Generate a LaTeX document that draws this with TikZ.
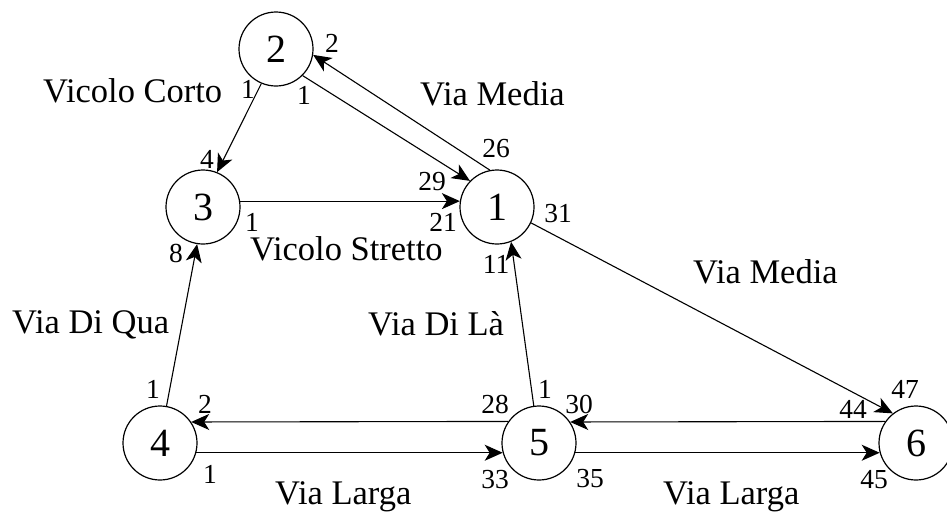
\documentclass[tikz,border=0pt]{standalone}
\usepackage{fontspec}
\setmainfont{Liberation Serif}
\usetikzlibrary{arrows.meta}

\tikzset{
  city/.style={circle, draw, line width=1.2pt, minimum size=74pt, inner sep=0pt,
               font=\fontsize{40}{40}\selectfont},
  road/.style={line width=1.1pt, -{Stealth[length=18pt, width=16pt, inset=5pt]}},
  roadname/.style={anchor=base west, inner sep=0pt, font=\fontsize{34.5}{34.5}\selectfont},
  idx/.style={anchor=base, inner sep=0pt, font=\fontsize{27.5}{27.5}\selectfont}
}

\begin{document}
\begin{tikzpicture}[x=1pt, y=-1pt]
\useasboundingbox (0,0) rectangle (947,515);

% intersections
\node[city] (n1) at (497,207) {1};
\node[city] (n2) at (276,49)  {2};
\node[city] (n3) at (203,207) {3};
\node[city] (n4) at (160,443) {4};
\node[city] (n5) at (539,443) {5};
\node[city] (n6) at (916,443) {6};

% one-way streets
\draw[road] (n2.-113) -- (n3.68);
\draw[road] (n2.-45)  -- (n1.136);
\draw[road] (n1.101)  -- (n2.-9);
\draw[road] (n3.9)    -- (n1.171);
\draw[road] (n1.-25)  -- (n6.128);
\draw[road] (n4.80)   -- (n3.-99);
\draw[road] (n5.145.4) -- (n4.34.6);
\draw[road] (n4.-15.7) -- (n5.195.7);
\draw[road] (n5.98)   -- (n1.-68);
\draw[road] (n6.145.4) -- (n5.34.6);
\draw[road] (n5.-15.7) -- (n6.195.7);

% street names
\node[roadname] (tCorto)   at (43,102)  {Vicolo Corto};
\node[roadname] (tMediaA)  at (420,105) {Via Media};
\node[roadname] (tStretto) at (250,260) {Vicolo Stretto};
\node[roadname] (tMediaB)  at (693,283) {Via Media};
\node[roadname] (tQua)     at (12,333)  {Via Di Qua};
\node[roadname] (tLa)      at (368,335) {Via Di Là};
\node[roadname] (tLargaA)  at (275,504) {Via Larga};
\node[roadname] (tLargaB)  at (663,504) {Via Larga};

% house numbers at the street ends
\node[idx] (k01) at (248,98)  {1};
\node[idx] (k02) at (207,168) {4};
\node[idx] (k03) at (304,104) {1};
\node[idx] (k04) at (332,52)  {2};
\node[idx] (k05) at (496,157) {26};
\node[idx] (k06) at (432,190) {29};
\node[idx] (k07) at (443,231) {21};
\node[idx] (k08) at (558,222) {31};
\node[idx] (k09) at (252,231) {1};
\node[idx] (k10) at (176,262) {8};
\node[idx] (k11) at (496,273) {11};
\node[idx] (k12) at (153,398) {1};
\node[idx] (k13) at (205,413) {2};
\node[idx] (k14) at (210,483) {1};
\node[idx] (k15) at (495,413) {28};
\node[idx] (k16) at (545,398) {1};
\node[idx] (k17) at (579,413) {30};
\node[idx] (k18) at (495,488) {33};
\node[idx] (k19) at (590,487) {35};
\node[idx] (k20) at (853,418) {44};
\node[idx] (k21) at (905,398) {47};
\node[idx] (k22) at (874,488) {45};
\end{tikzpicture}
\end{document}
